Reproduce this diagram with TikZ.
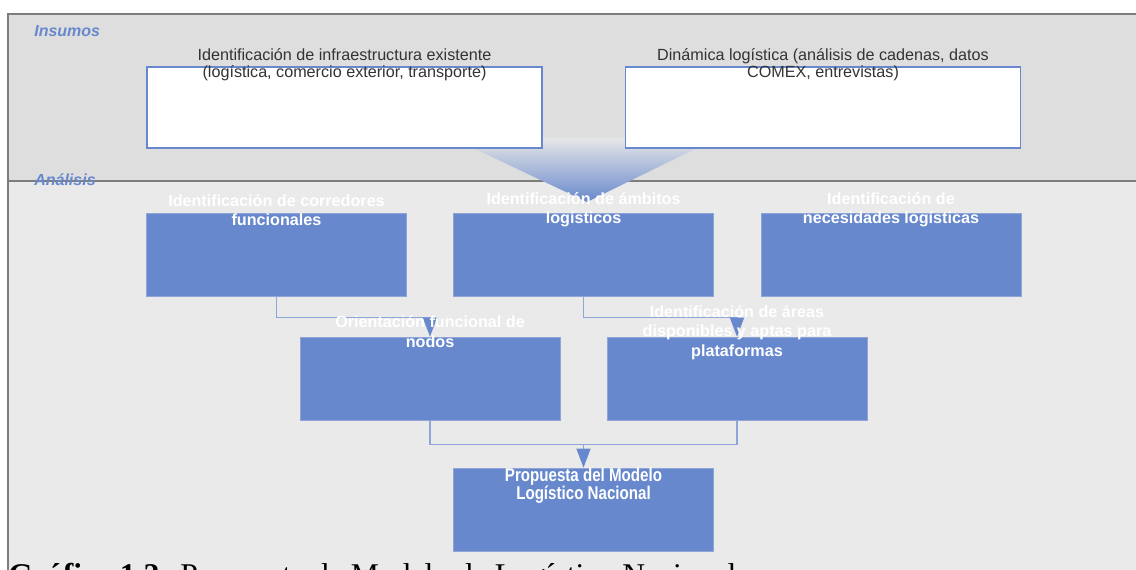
\documentclass[tikz,border=0pt]{standalone}
\usepackage{fontspec}
\setmainfont{Liberation Sans}
\newfontfamily\captionserif{Liberation Serif}
\newfontfamily\narrowsans[FakeStretch=0.82]{Liberation Sans}
\usepackage{tikz}
\usetikzlibrary{arrows.meta, positioning}
\definecolor{boxblue}{RGB}{103, 136, 204}
\definecolor{linkblue}{RGB}{143, 165, 216}
\definecolor{bandgray}{RGB}{222, 222, 222}
\definecolor{areagray}{RGB}{234, 234, 234}
\definecolor{framegray}{RGB}{125, 125, 125}
\definecolor{textgray}{RGB}{51, 51, 51}

\begin{document}
\begin{tikzpicture}[
    x=0.02cm, y=-0.02cm,
    inbox/.style={rectangle, draw=boxblue, line width=0.85pt, fill=white, minimum width=7.9cm, minimum height=1.62cm, inner sep=0},
    stepbox/.style={rectangle, draw=linkblue, line width=0.4pt, fill=boxblue, minimum width=5.2cm, minimum height=1.66cm, inner sep=0},
    intext/.style={align=center, inner sep=0, text=textgray, font=\fontsize{9.2}{9.7}\selectfont},
    steptext/.style={align=center, inner sep=0, text=white, font=\fontsize{9.2}{11.1}\selectfont\bfseries},
    band/.style={text=boxblue, font=\fontsize{9.1}{10}\selectfont\bfseries\itshape, anchor=west, inner sep=0},
    link/.style={-{Triangle[length=0.38cm, width=0.28cm, color=boxblue]}, linkblue, line width=0.85pt},
    joinline/.style={linkblue, line width=0.85pt}
]
\useasboundingbox (0,0) rectangle (1136,570);

% Bands
\fill[bandgray] (8,14) rectangle (1140,181);
\fill[areagray] (8,181) rectangle (1140,590);
\draw[framegray, line width=0.85pt] (8,590) -- (8,14) -- (1140,14);
\draw[framegray, line width=0.85pt] (8,181) -- (1140,181);

% Funnel from inputs to analysis
\shade[top color=bandgray!75!white, bottom color=boxblue] (473,138) -- (697,138) -- (697,148) -- (587,202) -- (473,148) -- cycle;

\node[band] (insumos) at (34,31) {Insumos};
\node[band] (analisis) at (34,180) {Análisis};

% Input boxes
\node[inbox] (infra) at (344.5,107.5) {};
\node[inbox] (dinamica) at (823,107.5) {};
\node[intext] (infratxt) at (344.5,64.5) {Identificación de infraestructura existente\\(logística, comercio exterior, transporte)};
\node[intext] (dinamicatxt) at (823,64.5) {Dinámica logística (análisis de cadenas, datos\\COMEX, entrevistas)};

% Analysis boxes
\node[stepbox] (corredores) at (276.5,254.5) {};
\node[stepbox] (ambitos) at (583.5,254.5) {};
\node[stepbox] (necesidades) at (891,254.5) {};
\node[stepbox] (nodos) at (430,378.5) {};
\node[stepbox] (areas) at (737,378.5) {};
\node[stepbox] (modelo) at (583.5,509.5) {};

% Connectors
\draw[link] (corredores.south) -- ++(0,21) -| (nodos.north);
\draw[link] (ambitos.south) -- ++(0,21) -| (areas.north);
\draw[joinline] (nodos.south) -- ++(0,24) -| (areas.south);
\coordinate (merge) at (583.5,444);
\draw[link] (merge) -- (modelo.north);

% Box texts
\node[steptext] (corredorestxt) at (276.5,210) {Identificación de corredores\\funcionales};
\node[steptext] (ambitostxt) at (583.5,210) {Identificación de ámbitos\\logísticos};
\node[steptext] (necesidadestxt) at (891,210) {Identificación de\\necesidades logísticas};
\node[steptext] (nodostxt) at (430,331.5) {Orientación funcional de\\nodos};
\node[steptext] (areastxt) at (737,332.5) {Identificación de áreas\\disponibles y aptas para\\plataformas};
\node[steptext, font=\fontsize{10.5}{10.3}\selectfont\narrowsans\bfseries] (modelotxt) at (583.5,486) {Propuesta del Modelo\\Logístico Nacional};

% Caption
\node[anchor=base west, inner sep=0, font=\fontsize{18}{20}\selectfont\captionserif] (caption) at (8,585) {\textbf{Gráfico 1.2:} Propuesta de Modelo de Logístico Nacional};
\end{tikzpicture}
\end{document}
